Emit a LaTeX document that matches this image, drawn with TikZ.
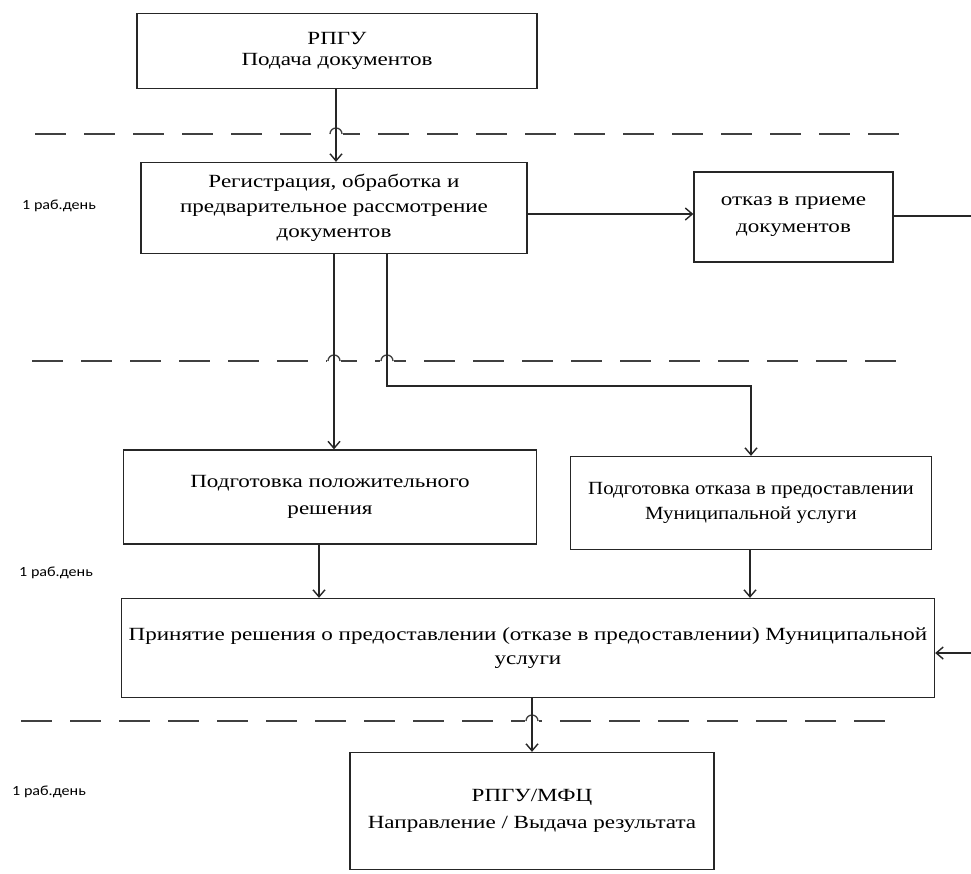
\documentclass[tikz,border=0pt]{standalone}
\usepackage{fontspec}
\setmainfont[FakeStretch=1.24]{Liberation Serif}
\newfontfamily\narrowserif[FakeStretch=1.12]{Liberation Serif}
\newfontfamily\smallfont[FakeStretch=1.15]{Carlito}
\usetikzlibrary{arrows.meta}
\begin{document}
\begin{tikzpicture}[x=1pt,y=-1pt,
  box/.style={draw=black!85, line width=1.3pt, align=center, inner sep=0pt,
    font=\fontsize{18.6}{25}\selectfont},
  conn/.style={draw=black!85, line width=1.3pt, -{Straight Barb[length=7pt,width=12pt,line width=1.4pt]}},
  sepline/.style={draw=black!75, line width=2pt, dash pattern=on 31pt off 18pt},
  hop/.style={draw=black!75, line width=1.3pt},
  daylabel/.style={anchor=west, font=\smallfont\fontsize{14}{16}\selectfont, inner sep=0pt}]
\useasboundingbox (0,0) rectangle (971,873);
\clip (0,0) rectangle (971,873);
\fill[white] (0,0) rectangle (971,873);

% separators
\draw[sepline] (35,134) -- (908,134);
\draw[sepline] (32,361) -- (898,361);
\draw[sepline] (21,721) -- (892,721);

% nodes
\node[box, minimum width=400pt, minimum height=75pt, font=\fontsize{18.6}{21}\selectfont] (n1) at (337,51) {РПГУ\\Подача документов};
\node[box, minimum width=386pt, minimum height=91pt] (n2) at (334,208) {Регистрация, обработка и\\предварительное рассмотрение\\документов};
\node[box, minimum width=199pt, minimum height=90pt, font=\fontsize{18.6}{27}\selectfont] (n3) at (793.5,217) {отказ в приеме\\документов};
\node[box, minimum width=413pt, minimum height=94pt, font=\fontsize{18.6}{27}\selectfont] (n4) at (330,497) {Подготовка положительного\\решения};
\node[box, minimum width=361pt, minimum height=93pt, font=\narrowserif\fontsize{18.6}{25}\selectfont] (n5) at (751,503) {Подготовка отказа в предоставлении\\Муниципальной услуги};
\node[box, minimum width=813pt, minimum height=99pt, font=\fontsize{18.6}{24}\selectfont] (n6) at (528,648) {Принятие решения о предоставлении (отказе в предоставлении) Муниципальной\\услуги};
\node[box, minimum width=364pt, minimum height=117pt, font=\fontsize{18.6}{27}\selectfont] (n7) at (532,811) {РПГУ/МФЦ\\Направление / Выдача результата};

\node[daylabel] (d1) at (22,206) {1 раб.день};
\node[daylabel] (d2) at (19,573) {1 раб.день};
\node[daylabel] (d3) at (12,792) {1 раб.день};

% hops over separators
\foreach \hx/\hy in {336/134, 334/361, 387/361, 532/721}{
  \fill[white] (\hx-7,\hy-2) rectangle (\hx+7,\hy+2);
  \draw[hop] (\hx-6,\hy) arc[start angle=180,end angle=360,radius=6];
}

% connectors
\coordinate (j1) at (387,386);
\draw[conn] (n1.south -| 336,0) -- (n2.north -| 336,0);
\draw[conn] (n2.east |- 0,214) -- (n3.west |- 0,214);
\draw[conn] (n3.east |- 0,216) -- (1000,216) |- (n6.east |- 0,653);
\draw[conn] (n2.south -| 334,0) -- (n4.north -| 334,0);
\draw[conn] (n2.south -| j1) -- (j1) -| (n5.north);
\draw[conn] (n4.south -| 319,0) -- (n6.north -| 319,0);
\draw[conn] (n5.south -| 750,0) -- (n6.north -| 750,0);
\draw[conn] (n6.south -| 532,0) -- (n7.north -| 532,0);
\end{tikzpicture}
\end{document}
